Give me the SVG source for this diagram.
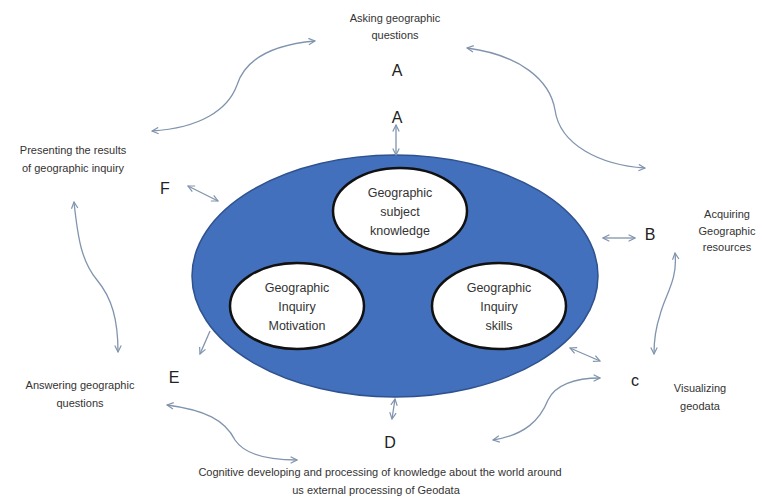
<svg xmlns="http://www.w3.org/2000/svg" width="762" height="500" viewBox="0 0 762 500">
<style>
.lbl{font-family:"Liberation Sans",Arial,sans-serif;font-size:11px;fill:#333;text-anchor:middle}
.let{font-family:"Liberation Sans",Arial,sans-serif;font-size:16px;fill:#222;text-anchor:middle}
.in{font-family:"Liberation Sans",Arial,sans-serif;font-size:12.5px;fill:#333;text-anchor:middle}
.con{fill:none;stroke:#8094ae;stroke-width:1.3}
.inner{fill:#fff;stroke:#111;stroke-width:2.5}
</style>
<defs>
<marker id="ah" viewBox="0 0 10 10" refX="9" refY="5" markerWidth="8" markerHeight="8" markerUnits="userSpaceOnUse" orient="auto-start-reverse">
<path d="M1 1 L9 5 L1 9" fill="none" stroke="#8094ae" stroke-width="1.5"/>
</marker>
</defs>
<rect width="762" height="500" fill="#fff"/>
<g id="main">
<ellipse cx="395" cy="276" rx="203" ry="121" fill="#4270bd" stroke="#2f528f" stroke-width="1.5"/>
</g>
<g id="knowledge">
<ellipse class="inner" cx="400" cy="211" rx="67" ry="43"/>
<text class="in" x="400" y="197">Geographic</text>
<text class="in" x="400" y="216">subject</text>
<text class="in" x="400" y="235">knowledge</text>
</g>
<g id="motivation">
<ellipse class="inner" cx="297" cy="306" rx="67" ry="43"/>
<text class="in" x="297" y="292">Geographic</text>
<text class="in" x="297" y="311">Inquiry</text>
<text class="in" x="297" y="330">Motivation</text>
</g>
<g id="skills">
<ellipse class="inner" cx="499" cy="306" rx="67" ry="43"/>
<text class="in" x="499" y="292">Geographic</text>
<text class="in" x="499" y="311">Inquiry</text>
<text class="in" x="499" y="330">skills</text>
</g>
<g id="asking">
<text class="lbl" x="395" y="22">Asking geographic</text>
<text class="lbl" x="395" y="39">questions</text>
<text class="let" x="397" y="76">A</text>
<text class="let" x="397" y="123">A</text>
</g>
<g id="presenting">
<text class="lbl" x="73" y="154">Presenting the results</text>
<text class="lbl" x="73" y="172">of geographic inquiry</text>
<text class="let" x="165" y="194">F</text>
</g>
<g id="acquiring">
<text class="lbl" x="727" y="218">Acquiring</text>
<text class="lbl" x="727" y="235">Geographic</text>
<text class="lbl" x="727" y="251">resources</text>
<text class="let" x="650" y="240">B</text>
</g>
<g id="visualizing">
<text class="let" x="635" y="386">c</text>
<text class="lbl" x="700" y="392">Visualizing</text>
<text class="lbl" x="700" y="410">geodata</text>
</g>
<g id="cognitive">
<text class="let" x="390" y="448">D</text>
<text class="lbl" x="380" y="476" font-size="11.5">Cognitive developing and processing of knowledge about the world around</text>
<text class="lbl" x="376" y="494" font-size="11.5">us external processing of Geodata</text>
</g>
<g id="answering">
<text class="let" x="174" y="383">E</text>
<text class="lbl" x="80" y="389">Answering geographic</text>
<text class="lbl" x="80" y="407">questions</text>
</g>
<g id="connectors">
<line class="con" x1="396" y1="125" x2="396" y2="155" marker-start="url(#ah)" marker-end="url(#ah)"/>
<line class="con" x1="188" y1="186" x2="218" y2="201" marker-start="url(#ah)" marker-end="url(#ah)"/>
<line class="con" x1="603" y1="238" x2="635" y2="238" marker-start="url(#ah)" marker-end="url(#ah)"/>
<line class="con" x1="570" y1="348" x2="600" y2="361" marker-start="url(#ah)" marker-end="url(#ah)"/>
<line class="con" x1="395" y1="399" x2="392" y2="419" marker-start="url(#ah)" marker-end="url(#ah)"/>
<line class="con" x1="210" y1="331" x2="200" y2="354" marker-end="url(#ah)"/>
<path class="con" d="M315 41 C270 45 245 60 237 85 C228 110 200 128 152 131" marker-start="url(#ah)" marker-end="url(#ah)"/>
<path class="con" d="M467 48 C520 55 550 80 555 110 C560 145 600 165 645 168" marker-start="url(#ah)" marker-end="url(#ah)"/>
<path class="con" d="M675 253 C678 280 665 295 660 315 C655 330 654 340 654 354" marker-start="url(#ah)" marker-end="url(#ah)"/>
<path class="con" d="M74 202 C78 240 82 262 97 280 C112 298 118 320 118 352" marker-start="url(#ah)" marker-end="url(#ah)"/>
<path class="con" d="M167 405 C205 410 225 420 235 440 C245 455 270 460 297 460" marker-start="url(#ah)" marker-end="url(#ah)"/>
<path class="con" d="M493 440 C525 435 540 420 548 400 C555 385 575 378 600 378" marker-start="url(#ah)" marker-end="url(#ah)"/>
</g>
</svg>
